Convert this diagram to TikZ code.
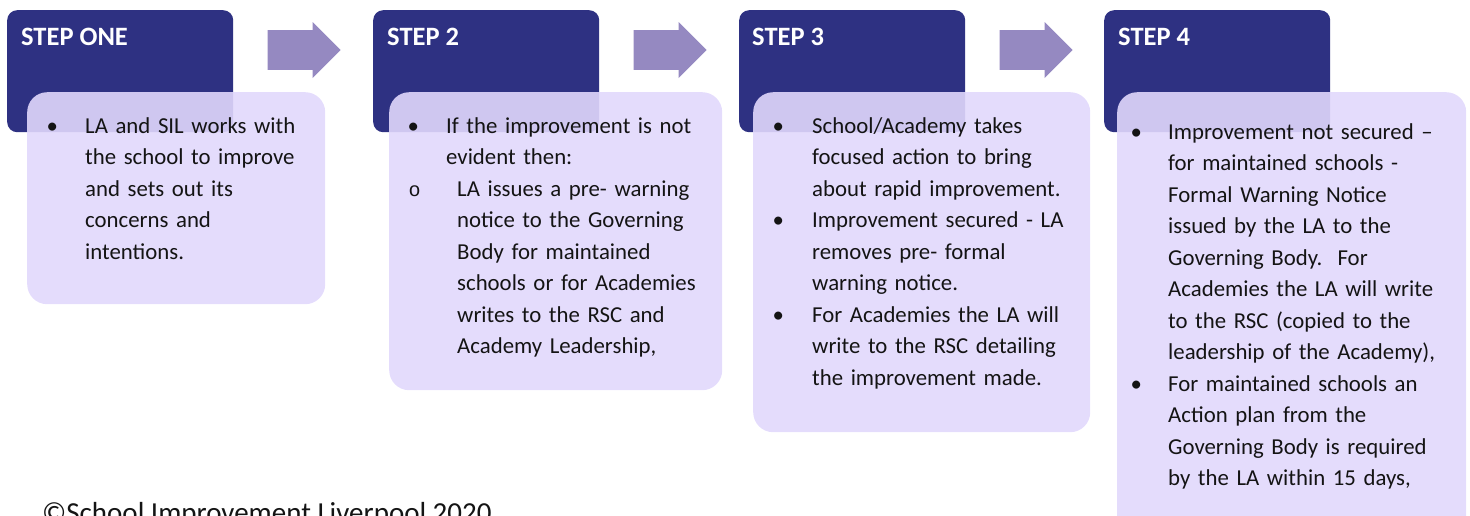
\documentclass[tikz,border=0pt]{standalone}
\usepackage{fontspec}
\setmainfont{Carlito}
\newfontfamily\subbulletfont{Liberation Mono}
\usetikzlibrary{shapes,arrows,positioning}
\usetikzlibrary{calc}
\definecolor{stepnavy}{RGB}{46,49,130}
\definecolor{steplilac}{RGB}{225,216,252}
\definecolor{arrowlilac}{RGB}{149,137,193}
\definecolor{bodyink}{RGB}{20,20,20}
\tikzstyle{titleblock} = [rectangle, fill=stepnavy, anchor=north west,
    rounded corners=10pt, minimum width=226pt, minimum height=122pt, inner sep=0pt]
\tikzstyle{noteblock} = [rectangle, fill=steplilac, fill opacity=0.9, anchor=north west,
    rounded corners=20pt, inner sep=0pt]
\tikzstyle{flowarrow} = [single arrow, fill=arrowlilac, anchor=west, inner sep=17pt,
    single arrow tip angle=90, minimum height=73pt, minimum width=56pt]
\newcommand{\stepitem}[2][38.5pt]{\par\noindent\hangindent=#1\hangafter=1%
    \makebox[#1][l]{\textbullet}#2\par}
\newcommand{\stepsubitem}[2][49.5pt]{\par\noindent\hangindent=#1\hangafter=1%
    \makebox[#1][l]{\hspace{1pt}{\subbulletfont\fontsize{20}{20}\selectfont o}}#2\par}
\begin{document}
\begin{tikzpicture}[x=1pt, y=-1pt]
    % Style definitions
    \tikzstyle{steptitle} = [anchor=base west, inner sep=0pt, text=white,
        font=\fontsize{26.5}{30}\selectfont\bfseries]
    \tikzstyle{stepbody} = [anchor=north west, inner sep=0pt, text=bodyink, text width=335pt,
        font=\fontsize{22.8}{31.5}\selectfont\raggedright]
    \clip (0,0) rectangle (1470,515);

    % Title blocks
    \node [titleblock] (step1) at (7,10) {};
    \node [titleblock] (step2) at (373,10) {};
    \node [titleblock] (step3) at (739,10) {};
    \node [titleblock] (step4) at (1104,10) {};
    \node [steptitle] (title1) at ([shift={(14,35)}]step1.north west) {STEP ONE};
    \node [steptitle] (title2) at ([shift={(14,35)}]step2.north west) {STEP 2};
    \node [steptitle] (title3) at ([shift={(13,35)}]step3.north west) {STEP 3};
    \node [steptitle] (title4) at ([shift={(14,35)}]step4.north west) {STEP 4};

    % Arrows between the steps
    \node [flowarrow] (arr1) at ([shift={(34,40)}]step1.north east) {};
    \node [flowarrow] (arr2) at ([shift={(34,40)}]step2.north east) {};
    \node [flowarrow] (arr3) at ([shift={(34,40)}]step3.north east) {};

    % Note blocks
    \node [noteblock, minimum width=298pt, minimum height=212pt] (note1)
        at ([shift={(20,82)}]step1.north west) {};
    \node [noteblock, minimum width=333pt, minimum height=298pt] (note2)
        at ([shift={(16,82)}]step2.north west) {};
    \node [noteblock, minimum width=337pt, minimum height=340pt] (note3)
        at ([shift={(14,82)}]step3.north west) {};
    \node [noteblock, minimum width=349pt, minimum height=450pt] (note4)
        at ([shift={(13,82)}]step4.north west) {};

    % Text of the steps
    \node [stepbody] (text1) at (46.5,101.5) {%
        \stepitem{LA and SIL works with\newline the school to improve\newline
        and sets out its\newline concerns and\newline intentions.}};
    \node [stepbody] (text2) at (407.5,101.5) {%
        \stepitem[38.5pt]{If the improvement is not\newline evident then:}
        \stepsubitem{LA issues a pre- warning\newline notice to the Governing\newline
        Body for maintained\newline schools or for Academies\newline
        writes to the RSC and\newline Academy Leadership,}};
    \node [stepbody] (text3) at (772.5,101.5) {%
        \stepitem[39.5pt]{School/Academy takes\newline focused action to bring\newline
        about rapid improvement.}
        \stepitem[39.5pt]{Improvement secured - LA\newline removes pre- formal\newline
        warning notice.}
        \stepitem[39.5pt]{For Academies the LA will\newline write to the RSC detailing\newline
        the improvement made.}};
    \node [stepbody] (text4) at (1130.5,107.5) {%
        \stepitem[37.5pt]{Improvement not secured --\newline for maintained schools -\newline
        Formal Warning Notice\newline issued by the LA to the\newline
        Governing Body.\ \ For\newline Academies the LA will write\newline
        to the RSC (copied to the\newline leadership of the Academy),}
        \stepitem[37.5pt]{For maintained schools an\newline Action plan from the\newline
        Governing Body is required\newline by the LA within 15 days,}};

    % Footer
    \node [anchor=base west, inner sep=0pt, text=bodyink, font=\fontsize{29}{32}\selectfont]
        (footer) at (42,522) {\textcopyright School Improvement Liverpool 2020};
\end{tikzpicture}
\end{document}
